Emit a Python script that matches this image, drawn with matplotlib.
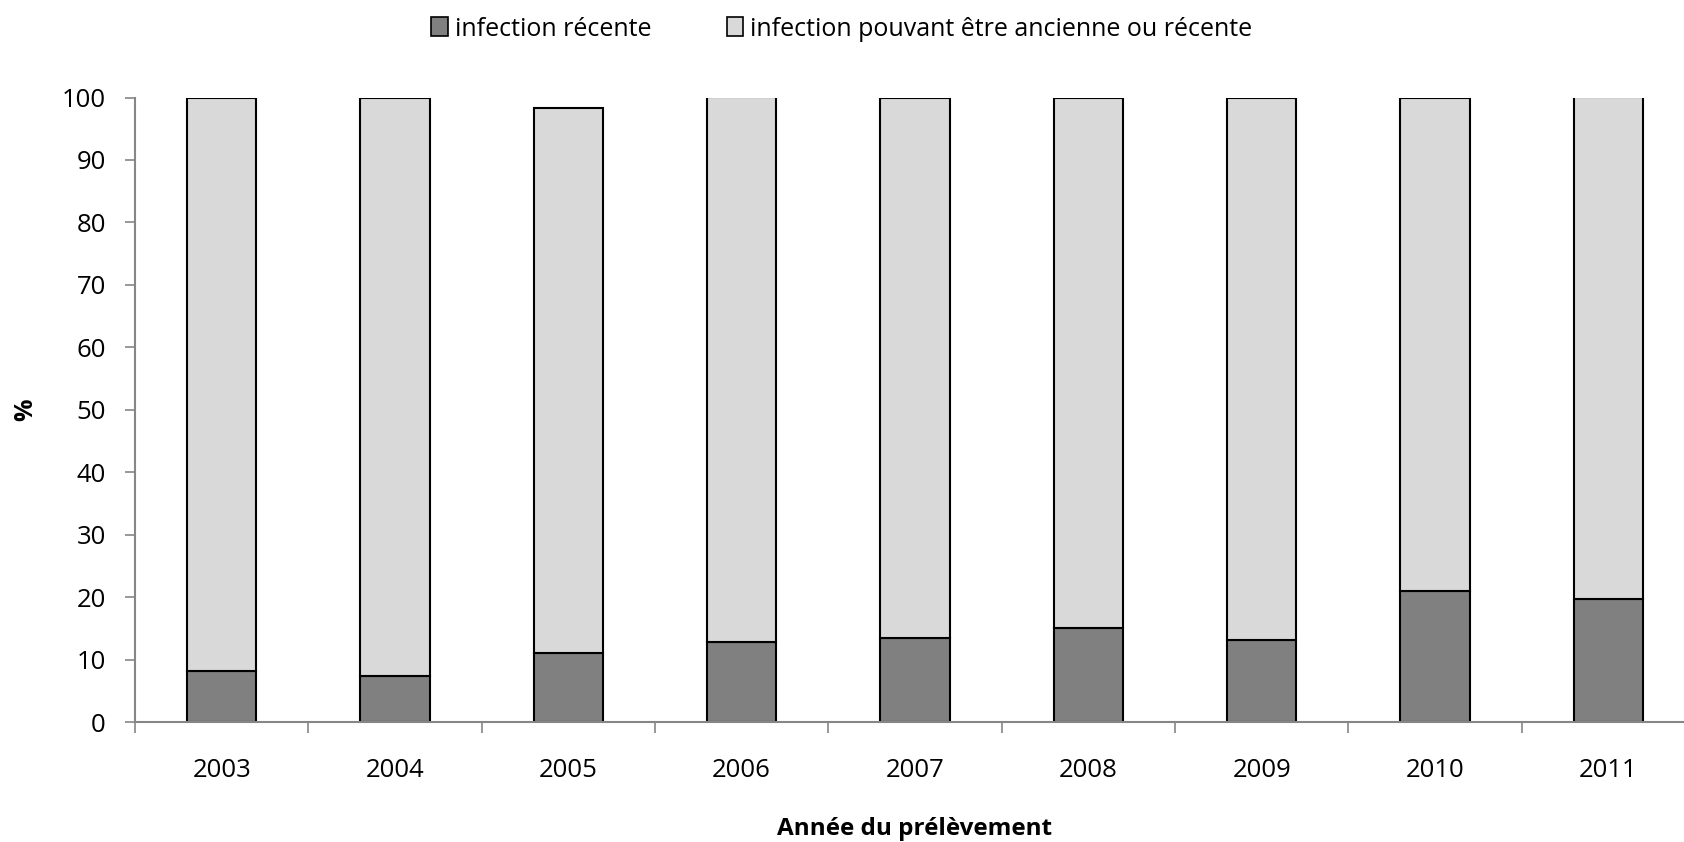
import numpy as np
from matplotlib import pyplot as plt
from matplotlib.patches import Patch

####################
# Data

years = ["2003", "2004", "2005", "2006", "2007", "2008", "2009", "2010", "2011"]
recent = [8.2, 7.4, 11.0, 12.8, 13.5, 15.0, 13.2, 21.0, 19.7]
total = [100, 100, 98.3, 100, 100, 100, 100, 100, 100]
old_or_recent = [t - r for t, r in zip(total, recent)]

labels = ["infection récente", "infection pouvant être ancienne ou récente"]
colors = ["#808080", "#d9d9d9"]

####################
# Plot

plt.rcParams["font.family"] = ["Open Sans", "DejaVu Sans"]

fig = plt.figure(figsize=(16.84, 8.42), dpi=100)
ax = fig.add_axes([135 / 1684, 1 - 722 / 842, 1560 / 1684, (722 - 97.5) / 842])

x = np.arange(len(years))
ax.bar(x, recent, width=0.4, color=colors[0], edgecolor="black", linewidth=1.5)
ax.bar(x, old_or_recent, width=0.4, bottom=recent, color=colors[1],
       edgecolor="black", linewidth=1.5)

ax.set_xlim(-0.5, len(years) - 0.5)
ax.set_ylim(0, 100)
ax.set_yticks(range(0, 101, 10))
ax.set_xticks(x)
ax.set_xticklabels(years)
ax.set_xticks(np.arange(-0.5, len(years), 1), minor=True)
ax.tick_params(axis="x", which="major", length=0, pad=26, labelsize=18.5)
ax.tick_params(axis="x", which="minor", length=8, width=1.2, color="#868686",
               direction="out")
ax.tick_params(axis="y", length=7, width=1.2, color="#868686", pad=14, labelsize=18.5)

for side in ["top", "right"]:
    ax.spines[side].set_visible(False)
for side in ["left", "bottom"]:
    ax.spines[side].set_color("#868686")
    ax.spines[side].set_linewidth(1.5)

ax.set_xlabel("Année du prélèvement", fontsize=17.5, fontweight="bold")
ax.xaxis.set_label_coords(0.5, -0.152)
ax.set_ylabel("%", fontsize=18, fontweight="bold")
ax.yaxis.set_label_coords(-0.062, 0.50)

handles = [Patch(facecolor=c, edgecolor="black", linewidth=1.2) for c in colors]
fig.legend(handles, labels, loc="center", bbox_to_anchor=(0.5, 1 - 29 / 842),
           ncol=2, frameon=False, fontsize=18, handlelength=0.65, handleheight=0.8,
           handletextpad=0.3, columnspacing=3.0)

fig.savefig("out.png", dpi=100)
